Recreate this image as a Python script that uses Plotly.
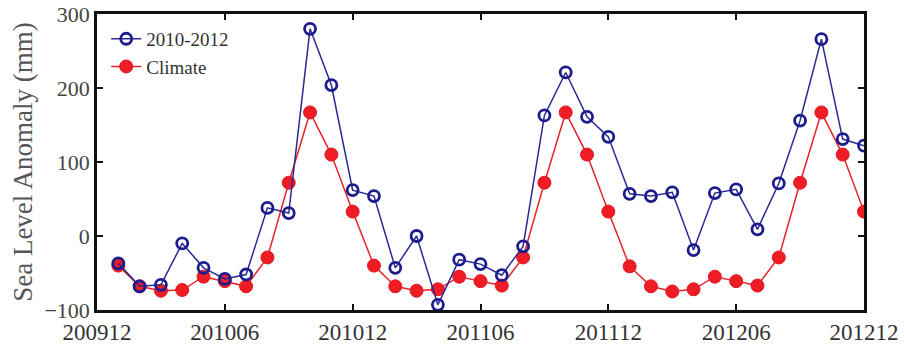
import plotly.graph_objects as go

# Month index: 0 = 200912, 36 = 201212
months = list(range(1, 37))
tick_pos = [0, 6, 12, 18, 24, 30, 36]
tick_labels = ["200912", "201006", "201012", "201106", "201112", "201206", "201212"]

# Monthly sea level anomaly (mm), 2010-2012
sla_2010_2012 = [-37, -68, -66, -10, -43, -58, -52, 38, 31, 280, 204, 62,
                 54, -43, 0, -93, -32, -38, -53, -14, 163, 221, 161, 134,
                 57, 54, 59, -19, 58, 63, 9, 71, 156, 266, 131, 122]

# Climatological monthly anomaly (mm)
sla_climate = [-40, -68, -74, -73, -55, -61, -68, -29, 72, 167, 110, 33,
               -40, -68, -74, -72, -55, -61, -67, -29, 72, 167, 110, 33,
               -41, -68, -75, -72, -55, -61, -67, -29, 72, 167, 110, 33]

serif = "Liberation Serif, Times New Roman, serif"

fig = go.Figure()
fig.add_trace(go.Scatter(
    x=months, y=sla_climate, name="Climate", mode="lines+markers",
    line=dict(color="#e8222a", width=1.5),
    marker=dict(symbol="circle", size=13, color="#ee1c24",
                line=dict(color="#e01a22", width=1)),
))
fig.add_trace(go.Scatter(
    x=months, y=sla_2010_2012, name="2010-2012", mode="lines+markers",
    line=dict(color="#2a2a92", width=1.5),
    marker=dict(symbol="circle-open", size=11, color="#1c1c8e",
                line=dict(width=2.8)),
))

fig.update_layout(
    width=904, height=345,
    margin=dict(l=97, r=40, t=14, b=35),
    paper_bgcolor="white", plot_bgcolor="white",
    font=dict(family=serif, size=22, color="#333333"),
    showlegend=True,
    legend=dict(x=0.012, y=0.98, xanchor="left", yanchor="top",
                bgcolor="rgba(0,0,0,0)", traceorder="reversed",
                font=dict(family=serif, size=19, color="#333333"),
                itemwidth=30, tracegroupgap=5),
)
fig.update_xaxes(
    range=[0, 36], tickmode="array", tickvals=tick_pos, ticktext=tick_labels,
    ticks="inside", ticklen=6, tickwidth=2, tickcolor="#111111",
    showline=True, linewidth=2.5, linecolor="#111111", mirror="ticks",
    showgrid=False, zeroline=False, automargin=False,
    tickfont=dict(family=serif, size=23, color="#333333"),
)
fig.update_yaxes(
    range=[-100, 300], tickvals=[-100, 0, 100, 200, 300],
    ticks="inside", ticklen=6, tickwidth=2, tickcolor="#111111",
    showline=True, linewidth=2.5, linecolor="#111111", mirror="ticks",
    showgrid=False, zeroline=False, automargin=False,
    title=dict(text="Sea Level Anomaly (mm)", standoff=4,
               font=dict(family=serif, size=27, color="#555555")),
    tickfont=dict(family=serif, size=22, color="#444444"),
)

fig.write_html("out.html")
